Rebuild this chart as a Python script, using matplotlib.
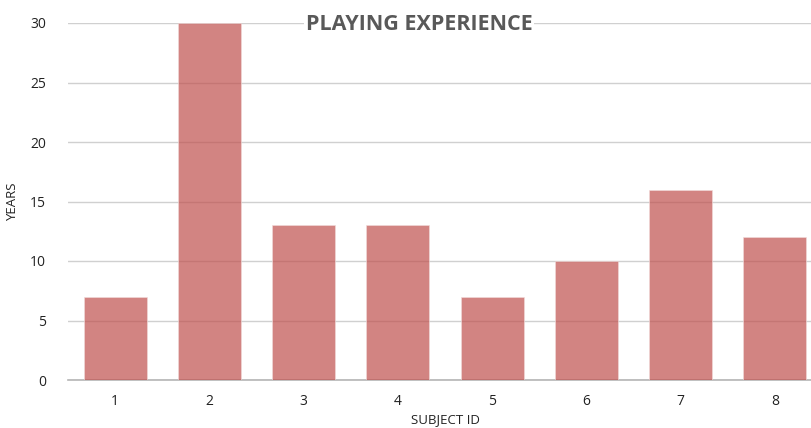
import matplotlib.pyplot as plt

# 受试者演奏年限
subject_ids = ['1', '2', '3', '4', '5', '6', '7', '8']
years = [7, 30, 13, 13, 7, 10, 16, 12]
y_ticks = [0, 5, 10, 15, 20, 25, 30]

plt.rcParams['font.family'] = ['Open Sans', 'DejaVu Sans']

fig = plt.figure(figsize=(8.12, 4.28), dpi=100)
# 右侧略超出画布，与原图裁切一致
ax = fig.add_axes([68 / 812, 48 / 428, 754 / 812, 357 / 428])

x = list(range(1, len(years) + 1))
ax.bar(x, years, width=0.67, color='#C0504D', alpha=0.7,
       edgecolor='#F2DCDB', linewidth=0.6, zorder=3)

ax.set_xlim(0.5, 8.5)
ax.set_ylim(0, 30)
ax.set_xticks(x)
ax.set_xticklabels(subject_ids)
ax.set_yticks(y_ticks)
ax.tick_params(axis='both', length=0, labelsize=10, colors='#222222')
ax.tick_params(axis='x', pad=10)
ax.tick_params(axis='y', pad=16)

ax.yaxis.grid(True, color='#D0D0D0', linewidth=1.0, zorder=0)
ax.set_axisbelow(True)
for side in ['top', 'right', 'left']:
    ax.spines[side].set_visible(False)
ax.spines['bottom'].set_color('#B5B5B5')
ax.spines['bottom'].set_linewidth(1.2)

ax.set_xlabel('SUBJECT ID', fontsize=9.5, color='#222222', labelpad=3)
ax.set_ylabel('YEARS', fontsize=9.5, color='#222222', labelpad=8)

fig.text(419 / 812, 1 - 24 / 428, 'PLAYING EXPERIENCE', ha='center', va='center',
         fontsize=15.5, fontweight='bold', color='#595959',
         bbox=dict(facecolor='white', edgecolor='none', pad=1))

fig.savefig('out.png', dpi=100)
